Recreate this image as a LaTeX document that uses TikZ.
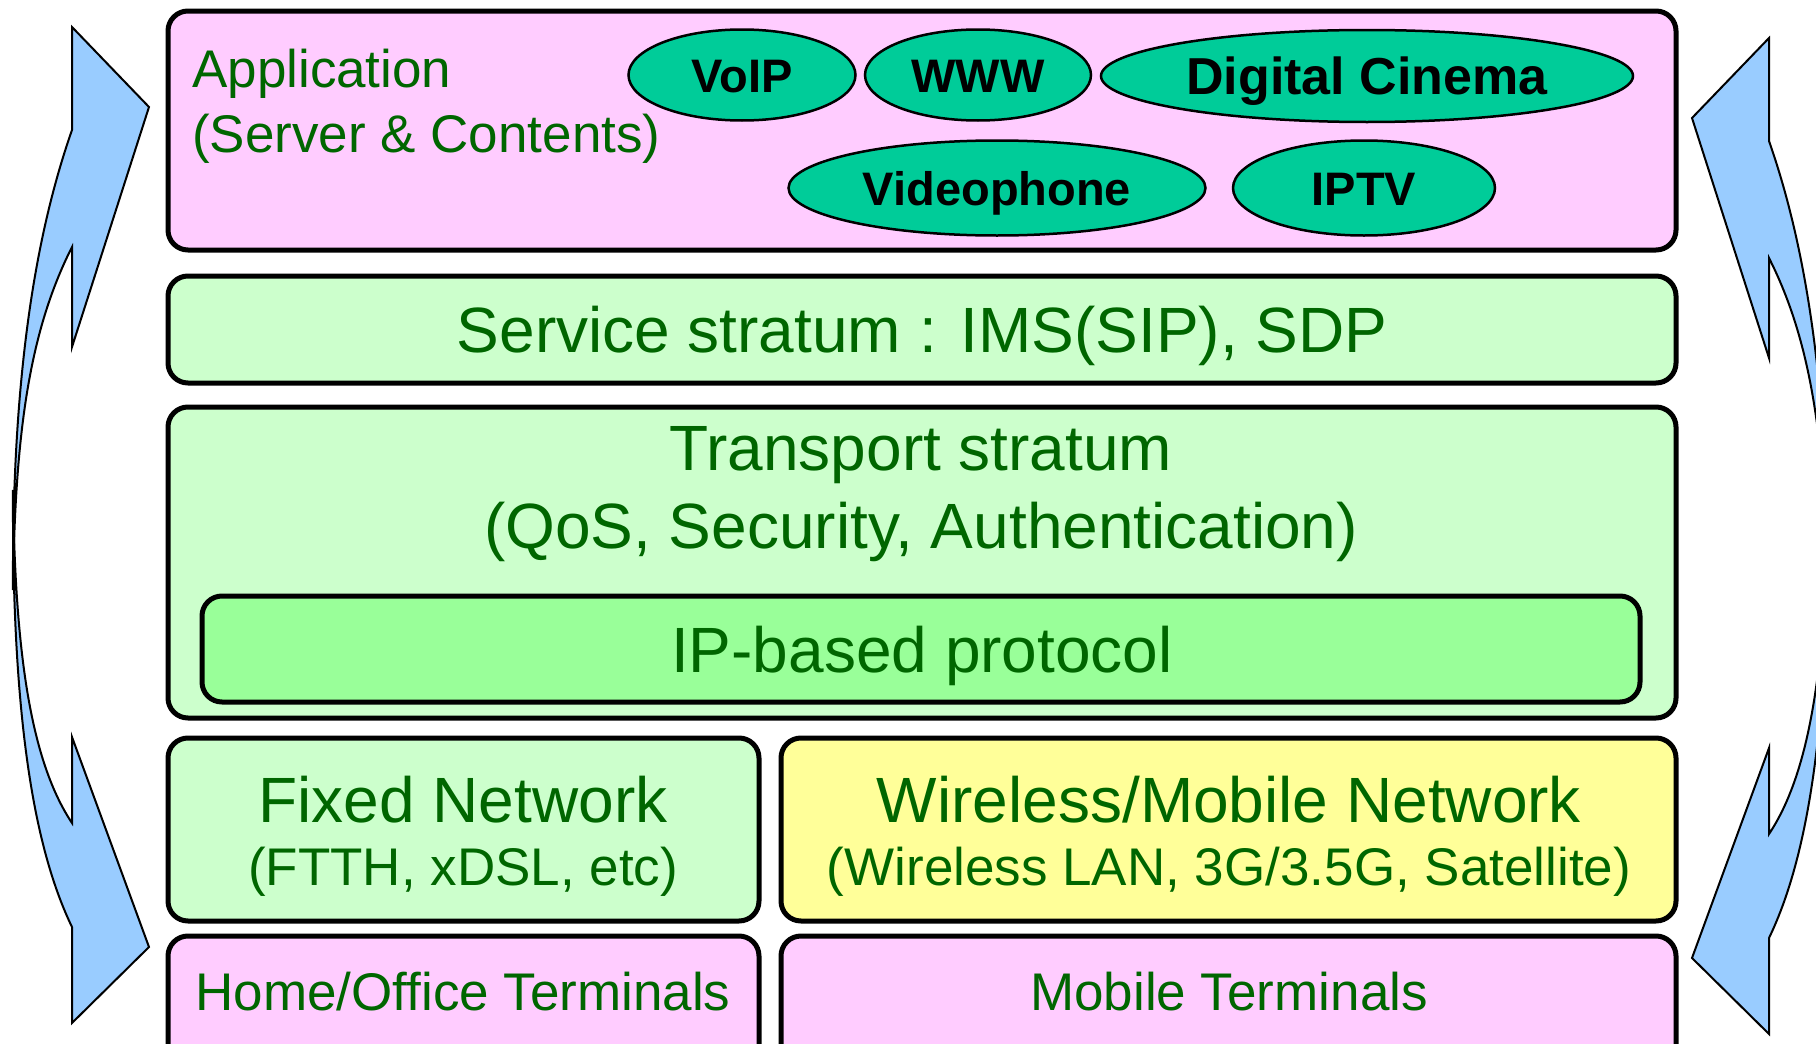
\documentclass[tikz,border=0pt]{standalone}
\usepackage{fontspec}
\setmainfont{Liberation Sans}
\usetikzlibrary{shapes.geometric}

\definecolor{pinkfill}{HTML}{FFCCFF}
\definecolor{palegreen}{HTML}{CCFFCC}
\definecolor{ipgreen}{HTML}{99FF99}
\definecolor{paleyellow}{HTML}{FFFF99}
\definecolor{appgreen}{HTML}{00CC99}
\definecolor{textgreen}{HTML}{006600}
\definecolor{arrowblue}{HTML}{99CCFF}

% Pair of curved arrows leaving a common tail and bending outwards
\newcommand\bowarrows{%
  % upper arrow
  \filldraw[bow] (13,590) .. controls (12,400) and (30,250) .. (72,130)
    -- (72,27) -- (149,107) -- (72,347) -- (72,247)
    .. controls (30,330) and (15,430) .. (13,590) -- cycle;
  % lower arrow
  \filldraw[bow] (13,490) .. controls (12,700) and (30,840) .. (72,927)
    -- (72,1023) -- (149,947) -- (72,737) -- (72,823)
    .. controls (30,760) and (15,650) .. (13,490) -- cycle;
}

\begin{document}
\begin{tikzpicture}[x=1pt,y=-1pt,
  layer/.style={draw=black,line width=5pt,rounded corners=20pt},
  layertext/.style={text=textgreen,inner sep=0pt,align=center,font=\fontsize{64}{78}\selectfont},
  smalltext/.style={text=textgreen,inner sep=0pt,align=center,font=\fontsize{53}{65}\selectfont},
  appbubble/.style={ellipse,draw=black,line width=2.5pt,fill=appgreen,inner sep=0pt,
    text=black,font=\fontsize{47}{56}\selectfont\bfseries,text height=34pt,text depth=0pt},
  bow/.style={draw=black,line width=2pt,fill=arrowblue,line join=miter}
]
\clip (0,0) rectangle (1816,1044);
\fill[white] (0,0) rectangle (1816,1044);

% side arrows
\bowarrows
\begin{scope}[xshift=1841pt,xscale=-1,yshift=-11pt]
  \bowarrows
\end{scope}

% application layer
\draw[layer,fill=pinkfill] (168,11) rectangle (1676,250);
\node[smalltext,align=left,anchor=west] (apptitle) at (192,106)
  {Application\\(Server \& Contents)};
\node[appbubble,minimum width=227,minimum height=91] (voip) at (742,75) {VoIP};
\node[appbubble,minimum width=226,minimum height=91] (www) at (978,75) {WWW};
\node[appbubble,minimum width=532,minimum height=92,
  font=\fontsize{52}{60}\selectfont\bfseries,text height=37pt]
  (cinema) at (1367,76) {Digital Cinema};
\node[appbubble,minimum width=417,minimum height=95] (videophone) at (997,188) {Videophone};
\node[appbubble,minimum width=262,minimum height=95] (iptv) at (1364,188) {IPTV};

% service stratum
\draw[layer,fill=palegreen] (168,276) rectangle (1676,383);
\node[layertext] (service) at (922,336) {Service stratum : IMS(SIP), SDP};

% transport stratum
\draw[layer,fill=palegreen] (168,407) rectangle (1676,718);
\node[layertext] (transport) at (921,494)
  {Transport stratum\\(QoS, Security, Authentication)};
\draw[layer,fill=ipgreen] (202,596) rectangle (1640,702);
\node[layertext] (ip) at (922,656) {IP-based protocol};

% access networks
\draw[layer,fill=palegreen] (168,738) rectangle (759,921);
\node[layertext] (fixed) at (463,800) {Fixed Network};
\node[smalltext] (fixedsub) at (463,872) {(FTTH, xDSL, etc)};
\draw[layer,fill=paleyellow] (781,738) rectangle (1676,921);
\node[layertext] (wireless) at (1229,800) {Wireless/Mobile Network};
\node[smalltext] (wirelesssub) at (1229,872) {(Wireless LAN, 3G/3.5G, Satellite)};

% terminals
\draw[layer,fill=pinkfill] (168,936) rectangle (759,1080);
\node[smalltext] (home) at (463,992) {Home/Office Terminals};
\draw[layer,fill=pinkfill] (781,936) rectangle (1676,1080);
\node[smalltext] (mobile) at (1229,992) {Mobile Terminals};
\end{tikzpicture}
\end{document}
